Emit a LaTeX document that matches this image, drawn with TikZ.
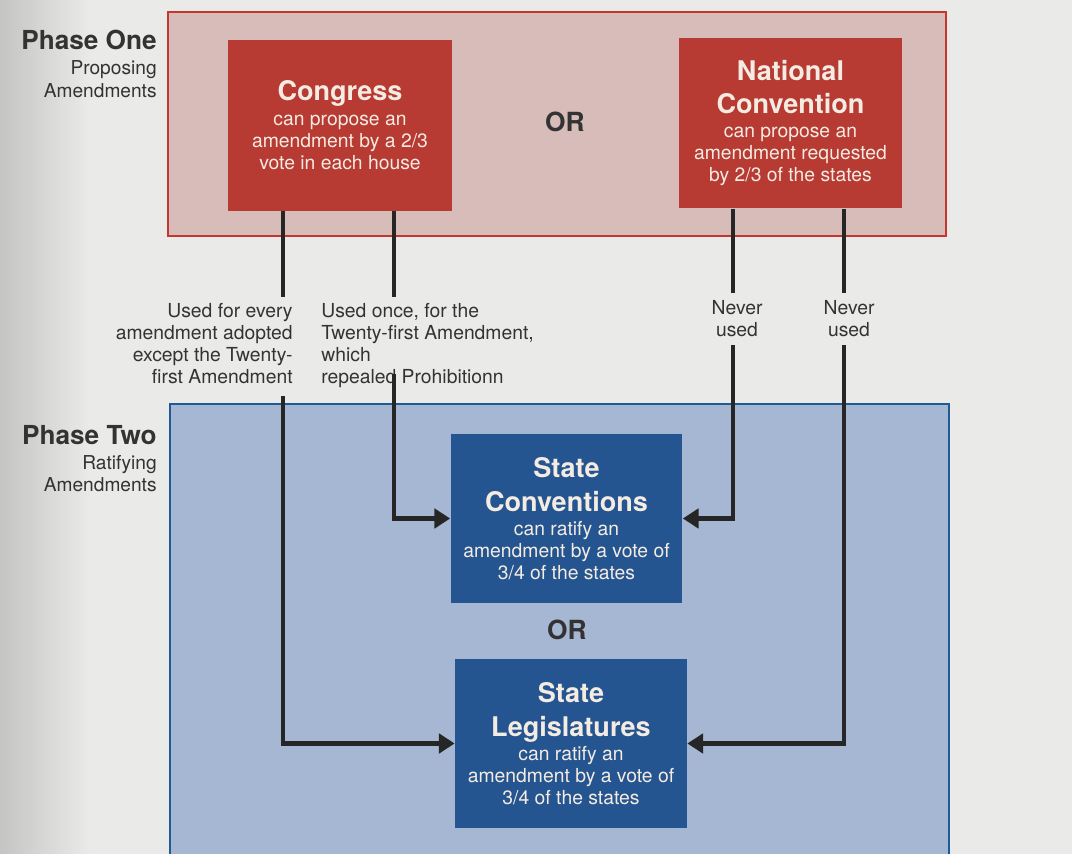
\documentclass[tikz,border=0pt]{standalone}
\usepackage{fontspec}
\setmainfont{TeX Gyre Heros}
\usepackage{tikz}
\usetikzlibrary{positioning}
\usetikzlibrary{arrows.meta}

\definecolor{paper}{HTML}{EAEAE8}
\definecolor{pinkpanel}{HTML}{D8BCB9}
\definecolor{borderred}{HTML}{C4372E}
\definecolor{boxred}{HTML}{B73A33}
\definecolor{bluepanel}{HTML}{A6B7D3}
\definecolor{borderblue}{HTML}{1F5A93}
\definecolor{boxblue}{HTML}{255591}
\definecolor{boxtext}{HTML}{F4ECE2}
\definecolor{inkgray}{HTML}{333333}
\definecolor{linegray}{HTML}{262626}

\newcommand\boxfont{\fontsize{11}{12.5}\selectfont}
\newcommand\notefont{\fontsize{11}{12.5}\selectfont}
\newcommand\boxtitle[1]{{\fontsize{15.4}{18}\selectfont\bfseries #1}}

\tikzset{
  redbox/.style={fill=boxred, text=boxtext, align=center, inner sep=0pt,
    minimum width=4.47cm, minimum height=3.42cm, font=\boxfont},
  bluebox/.style={fill=boxblue, text=boxtext, align=center, inner sep=0pt,
    minimum width=4.64cm, minimum height=3.38cm, font=\boxfont},
  usage/.style={text=inkgray, inner sep=0pt, font=\notefont},
  phase/.style={text=inkgray, inner sep=0pt, align=right, anchor=north east,
    font=\fontsize{10.9}{13}\selectfont},
  ortext/.style={text=inkgray, font=\fontsize{15}{18}\selectfont\bfseries},
  route/.style={draw=linegray, line width=2.8pt},
  tip/.style={-{Triangle[length=9pt,width=11pt]}}
}

\begin{document}
\begin{tikzpicture}[x=0.02cm,y=-0.02cm]
\useasboundingbox (0,0) rectangle (1072,854);
\fill[paper] (0,0) rectangle (1072,854);
\fill[left color=black!16!paper, right color=paper] (0,0) rectangle (90,854);

% the two phases
\fill[pinkpanel] (168,12) rectangle (946,236);
\draw[borderred, line width=0.9pt] (168,12) rectangle (946,236);
\fill[bluepanel] (170,404) rectangle (949,854);
\draw[borderblue, line width=1.1pt] (170,858) -- (170,404) -- (949,404) -- (949,858);

\node[phase] (one) at (157,30) {{\fontsize{14.9}{16}\selectfont\bfseries Phase One}\\[1pt] Proposing\\ Amendments};
\node[phase] (two) at (157,425) {{\fontsize{14.9}{16}\selectfont\bfseries Phase Two}\\[1pt] Ratifying\\ Amendments};

% proposing
\node[redbox] (congress) at (340,125.5) {\boxtitle{Congress}\\[1.7pt] can propose an\\ amendment by a 2/3\\ vote in each house};
\node[redbox] (natconv) at (790.5,123) {\boxtitle{National}\\[6pt]\boxtitle{Convention}\\[1.1pt] can propose an\\ amendment requested\\ by 2/3 of the states};
\node[ortext] (or1) at (565,122) {OR};

% ratifying
\node[bluebox] (conv) at (566.5,518.5) {\boxtitle{State}\\[7pt]\boxtitle{Conventions}\\[1.1pt] can ratify an\\ amendment by a vote of\\ 3/4 of the states};
\node[ortext] (or2) at (567,630) {OR};
\node[bluebox] (legis) at (571,743.5) {\boxtitle{State}\\[7pt]\boxtitle{Legislatures}\\[1.1pt] can ratify an\\ amendment by a vote of\\ 3/4 of the states};

% notes on the routes
\node[usage, align=right, anchor=north east] (everyuse) at (293,303) {Used for every\\ amendment adopted\\ except the Twenty-\\ first Amendment};
\node[usage, align=left, anchor=north west] (onceuse) at (321,303) {Used once, for the\\ Twenty-first Amendment,\\ which\\ repealed Prohibitionn};
\node[usage, align=center, anchor=north] (never1) at (737,300) {Never\\ used};
\node[usage, align=center, anchor=north] (never2) at (849,300) {Never\\ used};

\coordinate (a0) at ([xshift=-1.14cm]congress.south);
\coordinate (a1) at ([xshift=1.08cm]congress.south);
\coordinate (b0) at ([xshift=-1.15cm]natconv.south);
\coordinate (b1) at ([xshift=1.07cm]natconv.south);

\draw[route] (a0) -- ([yshift=0.12cm]a0 |- everyuse.north);
\draw[route,tip] ([yshift=-0.24cm]a0 |- everyuse.south) |- (legis.west);
\draw[route] (a1) -- ([yshift=0.12cm]a1 |- onceuse.north);
\draw[route,tip] ([yshift=0.28cm]a1 |- onceuse.south) |- (conv.west);
\draw[route] (b0) -- ([yshift=0.14cm]b0 |- never1.north);
\draw[route,tip] ([yshift=-0.16cm]b0 |- never1.south) |- (conv.east);
\draw[route] (b1) -- ([yshift=0.14cm]b1 |- never2.north);
\draw[route,tip] ([yshift=-0.16cm]b1 |- never2.south) |- (legis.east);
\end{tikzpicture}
\end{document}
